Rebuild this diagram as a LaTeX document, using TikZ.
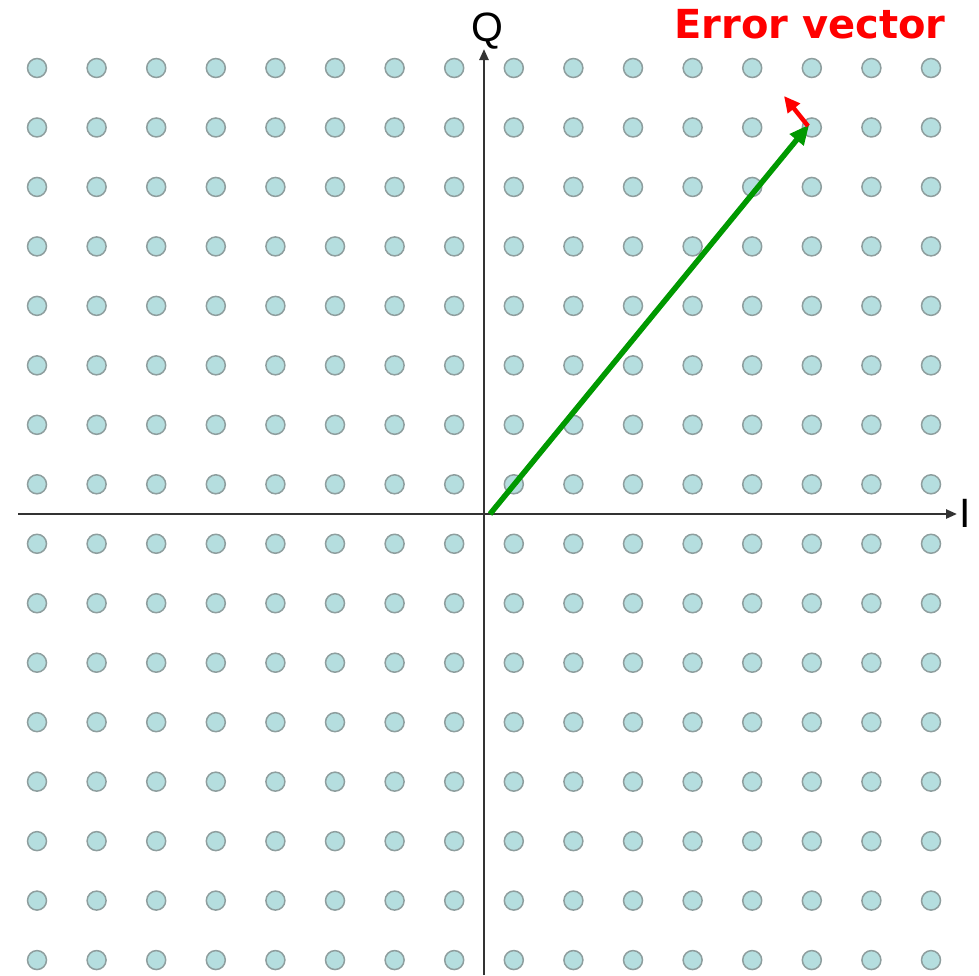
\documentclass[tikz,border=0pt]{standalone}
\usepackage{fontspec}
\setmainfont{Liberation Sans}
\newfontfamily\labelfont{DejaVu Sans}
\usetikzlibrary{arrows.meta}
\definecolor{dotfill}{HTML}{B5DEDF}
\definecolor{dotline}{HTML}{8E9E9E}
\definecolor{axisgray}{HTML}{333333}
\definecolor{vecgreen}{HTML}{009900}
\begin{document}
\begin{tikzpicture}[x=1pt,y=-1pt,
  dotnode/.style={circle,fill=dotfill,draw=dotline,line width=1.5pt,minimum size=19pt,inner sep=0pt},
  axisline/.style={draw=axisgray,line width=2.4pt,-{Triangle[length=11pt,width=9pt]}},
  greenvec/.style={draw=vecgreen,line width=5.5pt,-{Triangle[length=20pt,width=17pt]},shorten >=-2pt},
  redvec/.style={draw=red,line width=4.5pt,-{Triangle[length=16pt,width=15pt]}},
  axislabel/.style={font=\fontsize{41}{41}\selectfont,text=black,inner sep=0pt}
]
\useasboundingbox (0,0) rectangle (979,975);
\foreach \i in {0,...,15}{
  \foreach \j in {0,...,15}{
    \node[dotnode] (d\i-\j) at ({37+59.6*\i},{68+59.47*\j}) {};
  }
}
\coordinate (xl) at (18,514);
\coordinate (xr) at (957,514);
\coordinate (yb) at (484,975);
\coordinate (yt) at (484,49);
\draw[axisline] (xl) -- (xr);
\draw[axisline] (yb) -- (yt);
\node[axislabel] (Q) at (487,31) {Q};
\node[axislabel] (I) at (965,513) {I};
\coordinate (O) at (490,514);
\coordinate (P) at (808,126);
\coordinate (E) at (784,96);
\draw[greenvec] (O) -- (P);
\draw[redvec] (P) -- (E);
\node[font=\labelfont\bfseries\fontsize{40}{40}\selectfont,text=red,anchor=base,inner sep=0pt] (err) at (810,38) {Error vector};
\end{tikzpicture}
\end{document}
